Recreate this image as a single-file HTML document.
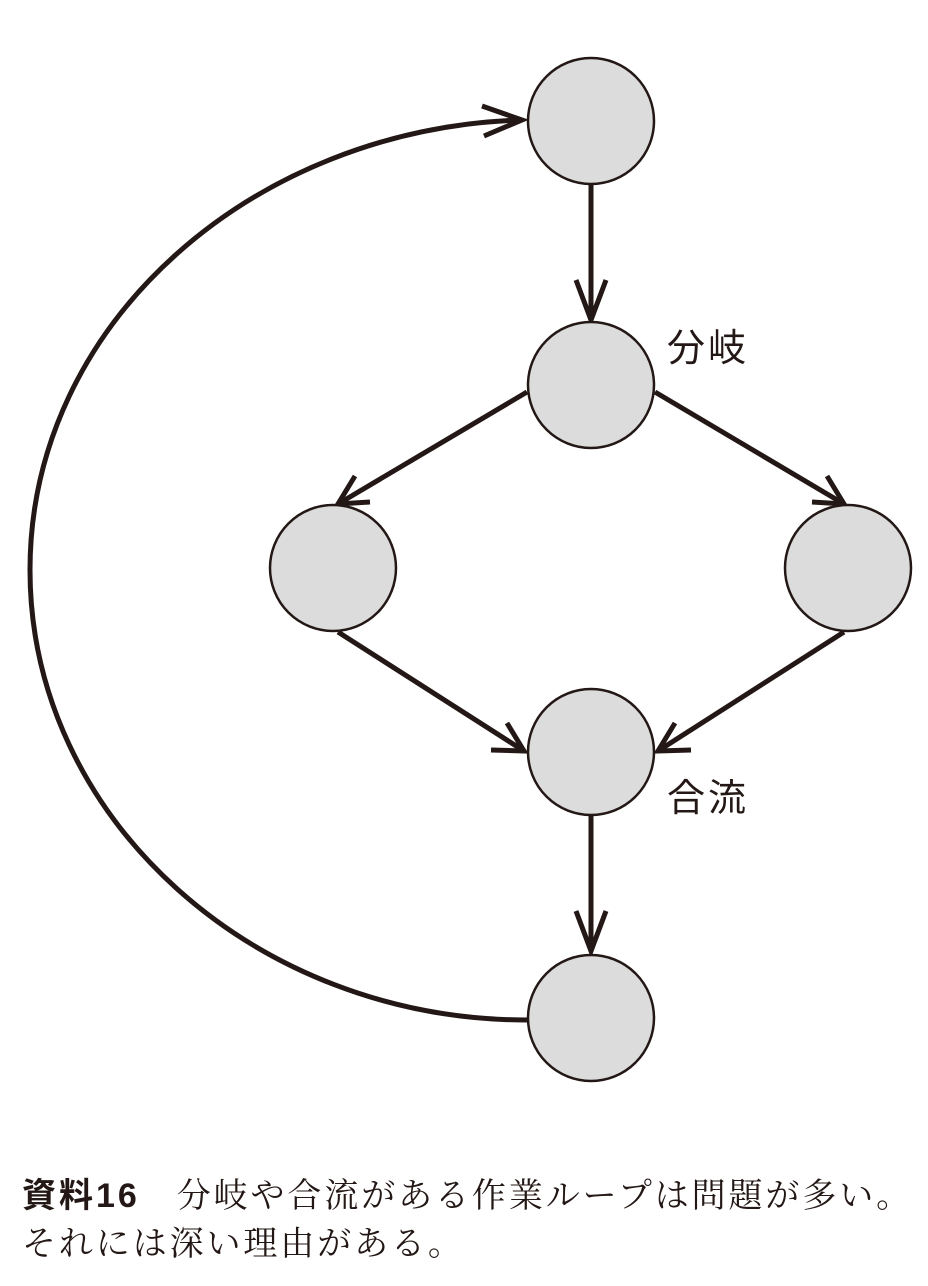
<!DOCTYPE html>
<html><head><meta charset="utf-8"><style>
body{margin:0;width:928px;height:1286px;background:#fff;position:relative;overflow:hidden}
.lb{position:absolute;font-family:"Liberation Sans","Noto Sans CJK JP",sans-serif;font-size:38px;letter-spacing:3px;color:#231815;line-height:1}
.cap{position:absolute;left:22px;font-family:"Liberation Serif","Noto Serif CJK SC",serif;font-size:34px;letter-spacing:2.9px;color:#231815;line-height:1;white-space:nowrap}
.b{font-family:"Liberation Sans","Noto Sans CJK JP",sans-serif;font-weight:bold;letter-spacing:3px}
</style></head><body>
<svg width="928" height="1286" style="position:absolute;left:0;top:0">
<g stroke="#231815" stroke-width="5" fill="none" stroke-linecap="butt">
<path d="M527,1020 C254,1020 30,818 30,570 C30,322 254,128 522,120"/>
<polyline points="482,106 522,120 484,136"/>
<line x1="591" y1="184" x2="591" y2="320"/>
<polyline points="576,280 591,320 606,280"/>
<line x1="527" y1="392" x2="338" y2="504"/>
<polyline points="355,476 338,504 370,502"/>
<line x1="655" y1="392" x2="844" y2="504"/>
<polyline points="812,502 844,504 827,476"/>
<line x1="338" y1="632" x2="524" y2="751"/>
<polyline points="491,750 524,751 507,723"/>
<line x1="844" y1="632" x2="658" y2="751"/>
<polyline points="675,723 658,751 691,750"/>
<line x1="591" y1="815" x2="591" y2="951"/>
<polyline points="576,911 591,951 606,911"/>
</g>
<g fill="#dcdcdc" stroke="#231815" stroke-width="2.5">
<circle cx="591" cy="121" r="63"/>
<circle cx="591" cy="385" r="63"/>
<circle cx="333" cy="568" r="63"/>
<circle cx="848" cy="568" r="63"/>
<circle cx="591" cy="752" r="63"/>
<circle cx="591" cy="1018" r="63"/>
</g>
</svg>
<div class="lb" style="left:667px;top:330px">分岐</div>
<div class="lb" style="left:667px;top:780px">合流</div>
<div class="cap" style="top:1179px"><span class="b">資料16</span>　分岐や合流がある作業ループは問題が多い。</div>
<div class="cap" style="top:1228px">それには深い理由がある。</div>
</body></html>
